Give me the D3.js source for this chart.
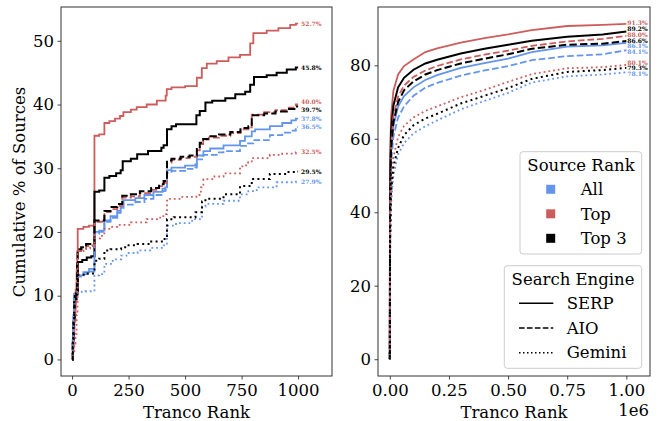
<!DOCTYPE html>
<html>
<head>
<meta charset="utf-8">
<script src="https://cdn.jsdelivr.net/npm/d3@7"></script>
<style>
  body { margin: 0; background: #fff; }
  svg { display: block; }
  text { font-family: "DejaVu Serif", serif; }
</style>
</head>
<body>
<svg id="chart" width="663" height="421"></svg>
<script>
// categories
const sourceRanks = ["All", "Top", "Top 3"];
const engines = ["SERP", "AIO", "Gemini"];
const rankColors = ["#6495ED", "#CD5C5C", "#000000"];

// tick values
const leftTicksX = [0, 250, 500, 750, 1000];
const leftTicksY = [0, 10, 20, 30, 40, 50];
const rightTicksX = [0, 250000, 500000, 750000, 1000000];
const rightTicksY = [0, 20, 40, 60, 80];

// top 1000 tranco ranks: [rank, cumulative %] (step after)
const top1kAllSerp = [[0,0],[3,3],[6,7],[9,10],[20,10.4],[24,13.2],[50,13.7],[75,14.2],[99,20.0],[120,20.2],[143,21.8],[170,22.5],[200,23.3],[215,24.4],[228,25.0],[280,25.3],[320,25.8],[360,26.3],[400,26.8],[412,27.0],[420,29.7],[440,30.1],[500,30.4],[545,30.6],[552,32.0],[581,32.7],[611,33.1],[670,33.6],[743,34.3],[765,35.0],[795,35.8],[810,36.1],[875,36.6],[930,37.1],[970,37.5],[990,37.8],[1000,37.8]];
const top1kTopSerp = [[0,0],[3,2],[6,5],[10,8],[16,11],[20,14],[23,17],[25,20.5],[50,20.8],[75,21.0],[99,35.1],[120,35.3],[143,37.1],[165,37.4],[190,37.8],[212,38.2],[227,38.8],[260,39.2],[286,39.6],[330,40.0],[375,40.6],[414,41.4],[419,42.4],[440,42.7],[500,42.9],[552,44.2],[574,45.7],[596,46.4],[640,46.8],[692,47.4],[743,47.8],[788,49.6],[802,51.2],[861,51.6],[913,52.0],[965,52.5],[990,52.7],[1000,52.7]];
const top1kTop3Serp = [[0,0],[4,3],[8,6],[12,10.3],[20,10.5],[26,15.3],[45,15.6],[65,16.0],[85,16.2],[99,26.3],[120,26.5],[143,28.5],[165,28.8],[195,29.2],[215,29.7],[224,31.1],[260,31.5],[288,32.2],[336,32.7],[395,33.2],[405,33.6],[420,36.1],[440,36.6],[460,36.9],[550,38.3],[565,39.0],[590,40.3],[620,40.6],[678,41.0],[722,41.6],[766,42.0],[788,43.1],[805,44.3],[861,44.6],[905,45.0],[950,45.5],[990,45.8],[1000,45.8]];

const top1kAllAio = [[0,0],[3,3],[6,6.5],[9,9.5],[20,10.2],[24,13.0],[50,13.4],[75,13.8],[99,19.7],[120,20.0],[143,21.6],[170,22.2],[200,23.0],[215,23.8],[228,24.3],[280,24.7],[320,25.2],[360,25.8],[400,26.4],[412,26.6],[420,29.3],[440,29.6],[500,29.9],[545,30.1],[552,31.4],[581,32.1],[640,32.5],[670,32.7],[743,33.5],[770,33.9],[802,34.4],[875,35.2],[930,35.6],[965,35.9],[990,36.5],[1000,36.5]];
const top1kTopAio = [[0,0],[3,1.5],[6,3.5],[10,6],[15,9],[20,12],[24,17],[40,17.3],[62,17.8],[99,21.6],[143,23.1],[170,23.6],[200,24.1],[222,25.4],[260,25.6],[300,26.1],[350,26.6],[385,27.2],[405,27.7],[420,30.9],[440,31.3],[480,31.6],[520,31.8],[552,32.8],[565,33.8],[580,34.5],[605,34.8],[650,35.1],[700,35.5],[745,36.1],[780,36.4],[795,38.4],[850,38.8],[900,39.1],[950,39.5],[990,40.0],[1000,40.0]];
const top1kTop3Aio = [[0,0],[3,2.5],[6,6],[10,9.5],[18,11],[22,15],[25,17.3],[40,17.6],[62,18.1],[99,21.8],[143,23.3],[170,23.9],[200,24.4],[222,25.7],[260,25.9],[300,26.4],[350,26.9],[385,27.5],[405,28.0],[420,31.2],[440,31.5],[480,31.8],[520,32.0],[552,33.0],[565,34.0],[580,34.6],[605,35.0],[650,35.3],[700,35.7],[745,36.3],[780,36.6],[795,38.3],[850,38.6],[900,38.9],[950,39.3],[990,39.7],[1000,39.7]];

const top1kAllGemini = [[0,0],[3,3],[6,7],[10,10.3],[24,10.6],[60,10.7],[99,13.2],[120,13.4],[143,15.0],[180,15.7],[217,16.3],[250,16.7],[290,17.1],[350,17.5],[405,17.9],[420,21.0],[460,21.4],[531,22.0],[575,24.0],[590,24.4],[670,24.9],[743,25.9],[780,26.4],[817,27.0],[905,27.8],[990,27.9],[1000,27.9]];
const top1kTopGemini = [[0,0],[5,1],[10,2.5],[15,4],[20,7],[24,17.0],[50,17.4],[80,17.9],[99,19.0],[125,19.4],[143,20.5],[170,20.8],[200,21.1],[260,21.5],[330,22.0],[390,22.5],[412,22.8],[420,25.2],[480,25.5],[550,25.8],[570,27.0],[581,28.3],[620,28.7],[670,29.2],[743,30.3],[770,30.9],[795,31.6],[875,32.1],[930,32.3],[990,32.5],[1000,32.5]];
const top1kTop3Gemini = [[0,0],[3,3],[6,6],[9,9.5],[20,10.2],[24,13.3],[60,13.5],[99,15.5],[120,15.8],[143,17.1],[170,17.3],[217,17.6],[250,17.9],[290,18.1],[350,18.5],[405,18.9],[420,22.0],[450,22.3],[546,23.1],[575,24.8],[590,25.2],[670,25.9],[743,27.2],[795,28.3],[875,29.1],[950,29.4],[990,29.5],[1000,29.5]];

// full tranco list: [rank, cumulative %]
const fullAllSerp = [[0,0],[1000,37.8],[5000,56],[15000,63.5],[35000,68.8],[60000,71.6],[100000,74.0],[150000,76.0],[200000,77.3],[300000,79.3],[400000,80.6],[500000,81.8],[600000,83.6],[750000,85.1],[900000,85.4],[1000000,86.1]];
const fullTopSerp = [[0,0],[1000,52.7],[5000,66],[15000,73],[35000,77.5],[60000,79.8],[100000,81.6],[150000,83.6],[200000,84.6],[300000,86.2],[400000,87.4],[500000,88.4],[600000,89.6],[750000,90.7],[900000,91.0],[1000000,91.3]];
const fullTop3Serp = [[0,0],[1000,45.8],[5000,62],[15000,69],[35000,74],[60000,76.6],[100000,78.8],[150000,80.5],[200000,81.5],[300000,83.2],[400000,84.5],[500000,85.6],[600000,86.7],[750000,87.8],[900000,88.4],[1000000,89.2]];

const fullAllAio = [[0,0],[1000,36.5],[5000,53],[15000,60.5],[35000,65.8],[60000,68.8],[100000,71.7],[150000,73.9],[200000,75.2],[300000,77.2],[400000,78.6],[500000,79.8],[600000,81.4],[750000,82.5],[900000,83.0],[1000000,84.1]];
const fullTopAio = [[0,0],[1000,40.0],[5000,58],[15000,66],[35000,71.5],[60000,74.5],[100000,76.8],[150000,78.6],[200000,79.8],[300000,81.6],[400000,82.9],[500000,84.0],[600000,85.3],[750000,86.5],[900000,87.2],[1000000,88.0]];
const fullTop3Aio = [[0,0],[1000,39.7],[5000,57],[15000,64.5],[35000,70],[60000,73.2],[100000,75.6],[150000,77.5],[200000,78.7],[300000,80.5],[400000,81.8],[500000,83.0],[600000,84.5],[750000,85.6],[900000,85.9],[1000000,86.6]];

const fullAllGemini = [[0,0],[1000,27.9],[5000,42],[15000,50],[35000,55.8],[60000,58.8],[100000,61.5],[150000,63.4],[200000,65.0],[300000,68.0],[400000,70.3],[500000,72.5],[600000,75.3],[750000,77.0],[900000,77.5],[1000000,78.1]];
const fullTopGemini = [[0,0],[1000,32.5],[5000,48],[15000,55],[35000,60.5],[60000,63.5],[100000,65.8],[150000,67.6],[200000,68.8],[300000,71.3],[400000,73.3],[500000,75.5],[600000,77.6],[750000,79.2],[900000,79.5],[1000000,80.1]];
const fullTop3Gemini = [[0,0],[1000,29.5],[5000,45],[15000,52.5],[35000,57.5],[60000,61],[100000,63.7],[150000,65.5],[200000,66.8],[300000,69.6],[400000,71.7],[500000,73.8],[600000,76.3],[750000,78.2],[900000,78.7],[1000000,79.3]];

const leftData = [
  [top1kAllSerp, top1kTopSerp, top1kTop3Serp],
  [top1kAllAio, top1kTopAio, top1kTop3Aio],
  [top1kAllGemini, top1kTopGemini, top1kTop3Gemini]
];
const rightData = [
  [fullAllSerp, fullTopSerp, fullTop3Serp],
  [fullAllAio, fullTopAio, fullTop3Aio],
  [fullAllGemini, fullTopGemini, fullTop3Gemini]
];

const svg = d3.select("#chart");
const fontSize = 16.5;

function lineStyle(path, engineIdx, rankIdx) {
  const lw = rankIdx === 2 ? 2 : 1.8;
  path.attr("stroke", rankColors[rankIdx]).attr("stroke-width", lw).attr("fill", "none");
  if (engineIdx === 1) path.attr("stroke-dasharray", `${3.7 * lw},${1.6 * lw}`);
  if (engineIdx === 2) path.attr("stroke-dasharray", `${1 * lw},${1.65 * lw}`);
}

// push labels apart so they don't overlap
function spread(items, minGap) {
  items.sort((a, b) => a.y - b.y);
  for (let k = 0; k < 100; k++) {
    for (let i = 1; i < items.length; i++) {
      const d = items[i].y - items[i - 1].y;
      if (d < minGap) {
        const s = (minGap - d) / 2;
        items[i - 1].y -= s;
        items[i].y += s;
      }
    }
  }
  return items;
}

function panel(opts) {
  const { left, right, top, bottom, xDomain, yDomain, data, curve, xTicks, yTicks, xFormat, labelDx, labelGap } = opts;
  const x = d3.scaleLinear().domain(xDomain).range([left, right]);
  const y = d3.scaleLinear().domain(yDomain).range([bottom, top]);
  const g = svg.append("g");

  const clipId = "clip" + Math.round(left);
  svg.append("clipPath").attr("id", clipId)
    .append("rect").attr("x", left).attr("y", top).attr("width", right - left).attr("height", bottom - top);

  const line = d3.line().x(d => x(d[0])).y(d => y(d[1])).curve(curve);
  const lines = g.append("g").attr("clip-path", `url(#${clipId})`);
  const labels = [];
  data.forEach((row, ei) => {
    row.forEach((series, ri) => {
      lines.append("path").datum(series).attr("d", line).call(lineStyle, ei, ri);
      const last = series[series.length - 1];
      labels.push({ y: y(last[1]), x: x(last[0]), v: last[1], color: rankColors[ri] });
    });
  });

  spread(labels, labelGap).forEach(l => {
    g.append("text")
      .attr("x", l.x + labelDx).attr("y", l.y).attr("dy", "0.35em")
      .attr("font-size", 6).attr("font-weight", "bold")
      .attr("fill", l.color)
      .text(l.v.toFixed(1) + "%");
  });

  const xAxis = g.append("g").attr("transform", `translate(0,${bottom})`)
    .call(d3.axisBottom(x).tickValues(xTicks).tickFormat(xFormat).tickSize(3.5).tickPadding(4.5));
  const yAxis = g.append("g").attr("transform", `translate(${left},0)`)
    .call(d3.axisLeft(y).tickValues(yTicks).tickFormat(d3.format("d")).tickSize(3.5).tickPadding(3.5));
  [xAxis, yAxis].forEach(a => {
    a.select(".domain").remove();
    a.selectAll("line").attr("stroke", "#333").attr("stroke-width", 0.9);
    a.selectAll("text").attr("font-size", fontSize).attr("font-family", "DejaVu Serif").attr("fill", "#000");
  });

  g.append("rect").attr("x", left).attr("y", top).attr("width", right - left).attr("height", bottom - top)
    .attr("fill", "none").attr("stroke", "#333").attr("stroke-width", 1);

  g.append("text").attr("x", (left + right) / 2).attr("y", 417.5).attr("text-anchor", "middle")
    .attr("font-size", fontSize).text("Tranco Rank");
  return { x, y, g };
}

panel({
  left: 61, right: 332, top: 7, bottom: 376,
  xDomain: [-49, 1150], yDomain: [-2.6, 55.3],
  data: leftData, curve: d3.curveStepAfter,
  xTicks: leftTicksX, yTicks: leftTicksY, xFormat: d3.format("d"),
  labelDx: 3, labelGap: 8
});

svg.append("text")
  .attr("transform", "translate(25,192) rotate(-90)")
  .attr("text-anchor", "middle").attr("font-size", fontSize)
  .text("Cumulative % of Sources");

const rp = panel({
  left: 378, right: 650, top: 7, bottom: 376,
  xDomain: [-50000, 1100000], yDomain: [-4.57, 95.87],
  data: rightData, curve: d3.curveLinear,
  xTicks: rightTicksX, yTicks: rightTicksY, xFormat: d => (d / 1e6).toFixed(2),
  labelDx: 1, labelGap: 5.8
});

svg.append("text").attr("x", 649).attr("y", 416).attr("text-anchor", "end")
  .attr("font-size", fontSize).text("1e6");

// legends
function legendBox(x0, y0, w, h) {
  svg.append("rect").attr("x", x0).attr("y", y0).attr("width", w).attr("height", h)
    .attr("rx", 3).attr("fill", "#fff").attr("fill-opacity", 0.8)
    .attr("stroke", "#ccc").attr("stroke-width", 1);
}

legendBox(520, 151.7, 121.7, 102.3);
svg.append("text").attr("x", 581).attr("y", 165).attr("dy", "0.35em")
  .attr("text-anchor", "middle").attr("font-size", fontSize).text("Source Rank");
sourceRanks.forEach((name, i) => {
  const cy = 189.3 + i * 24.5;
  svg.append("rect").attr("x", 546.2).attr("y", cy - 4.5).attr("width", 9).attr("height", 9)
    .attr("fill", rankColors[i]);
  svg.append("text").attr("x", 580.7).attr("y", cy).attr("dy", "0.35em")
    .attr("font-size", fontSize).text(name);
});

legendBox(504.3, 265.7, 137.4, 102.6);
svg.append("text").attr("x", 573).attr("y", 279.3).attr("dy", "0.35em")
  .attr("text-anchor", "middle").attr("font-size", fontSize).text("Search Engine");
engines.forEach((name, i) => {
  const cy = 303.3 + i * 24.7;
  const p = svg.append("path").attr("d", `M519,${cy}H553.3`);
  lineStyle(p, i, 0);
  p.attr("stroke", "#000").attr("stroke-width", 1.5);
  if (i === 1) p.attr("stroke-dasharray", "5.55,2.4");
  if (i === 2) p.attr("stroke-dasharray", "1.5,2.5");
  svg.append("text").attr("x", 566.7).attr("y", cy).attr("dy", "0.35em")
    .attr("font-size", fontSize).text(name);
});
</script>
</body>
</html>
